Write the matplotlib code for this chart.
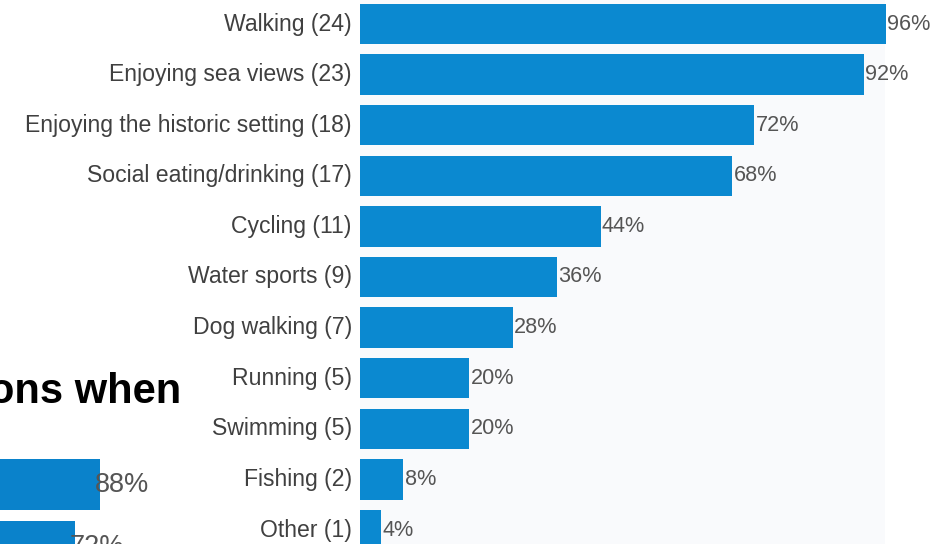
import matplotlib.pyplot as plt

plt.rcParams['font.family'] = ['Liberation Sans', 'DejaVu Sans']

# main chart
activities = ['Walking', 'Enjoying sea views', 'Enjoying the historic setting',
              'Social eating/drinking', 'Cycling', 'Water sports', 'Dog walking',
              'Running', 'Swimming', 'Fishing', 'Other']
counts = [24, 23, 18, 17, 11, 9, 7, 5, 5, 2, 1]
percents = [96, 92, 72, 68, 44, 36, 28, 20, 20, 8, 4]

# partly hidden chart behind it
back_title = 'ons when'
back_percents = [88, 72]

BAR = '#0b89d0'
BACK_BAR = '#0a82cb'
TEXT = '#404040'

W, H = 947, 544
fig = plt.figure(figsize=(W / 100, H / 100), dpi=100)
fig.patch.set_facecolor('white')

# background chart (mostly cut off at left and bottom)
bx0, bx1 = -37.5, 118.75           # pixel span for 0..100 %
by_top, by_step = 484.5, 62.0      # first bar centre, spacing
back = fig.add_axes([bx0 / W, 0, (bx1 - bx0) / W, 1])
back.patch.set_alpha(0)
back.barh(range(len(back_percents)), back_percents, height=51 / by_step,
          color=BACK_BAR)
for i, p in enumerate(back_percents):
    back.text(p - 3.2, i, f'{p}%', va='center', ha='left', fontsize=19.5,
              color='#555555')
back.set_xlim(0, 100)
back.set_ylim((H - by_top) / by_step, -by_top / by_step)
back.axis('off')
fig.text(181 / W, 1 - 403 / H, back_title, ha='right', va='baseline',
         fontsize=30, fontweight='bold', color='black')

# front chart
x0, x1 = 359.5, 907.5
y_top, y_step = 24.0, 50.6
ax = fig.add_axes([x0 / W, 0, (x1 - x0) / W, 1])
ax.patch.set_alpha(0)
# faint tinted backdrop behind the bars
ax.axvspan(0, (885 - x0) / (x1 - x0) * 100, color='#f9fafc', lw=0, zorder=0)
ypos = range(len(activities))
ax.barh(ypos, percents, height=40.5 / y_step, color=BAR, zorder=2)
for i, (name, n, p) in enumerate(zip(activities, counts, percents)):
    ax.text(-1.4, i, f'{name} ({n})', ha='right', va='center',
            fontsize=16.6, color=TEXT)
    ax.text(p + 0.25, i, f'{p}%', ha='left', va='center',
            fontsize=15.6, color='#555555', zorder=3)
ax.set_xlim(0, 100)
ax.set_ylim((H - y_top) / y_step, -y_top / y_step)
ax.axis('off')

fig.savefig('out.png', dpi=100, facecolor=fig.get_facecolor())
